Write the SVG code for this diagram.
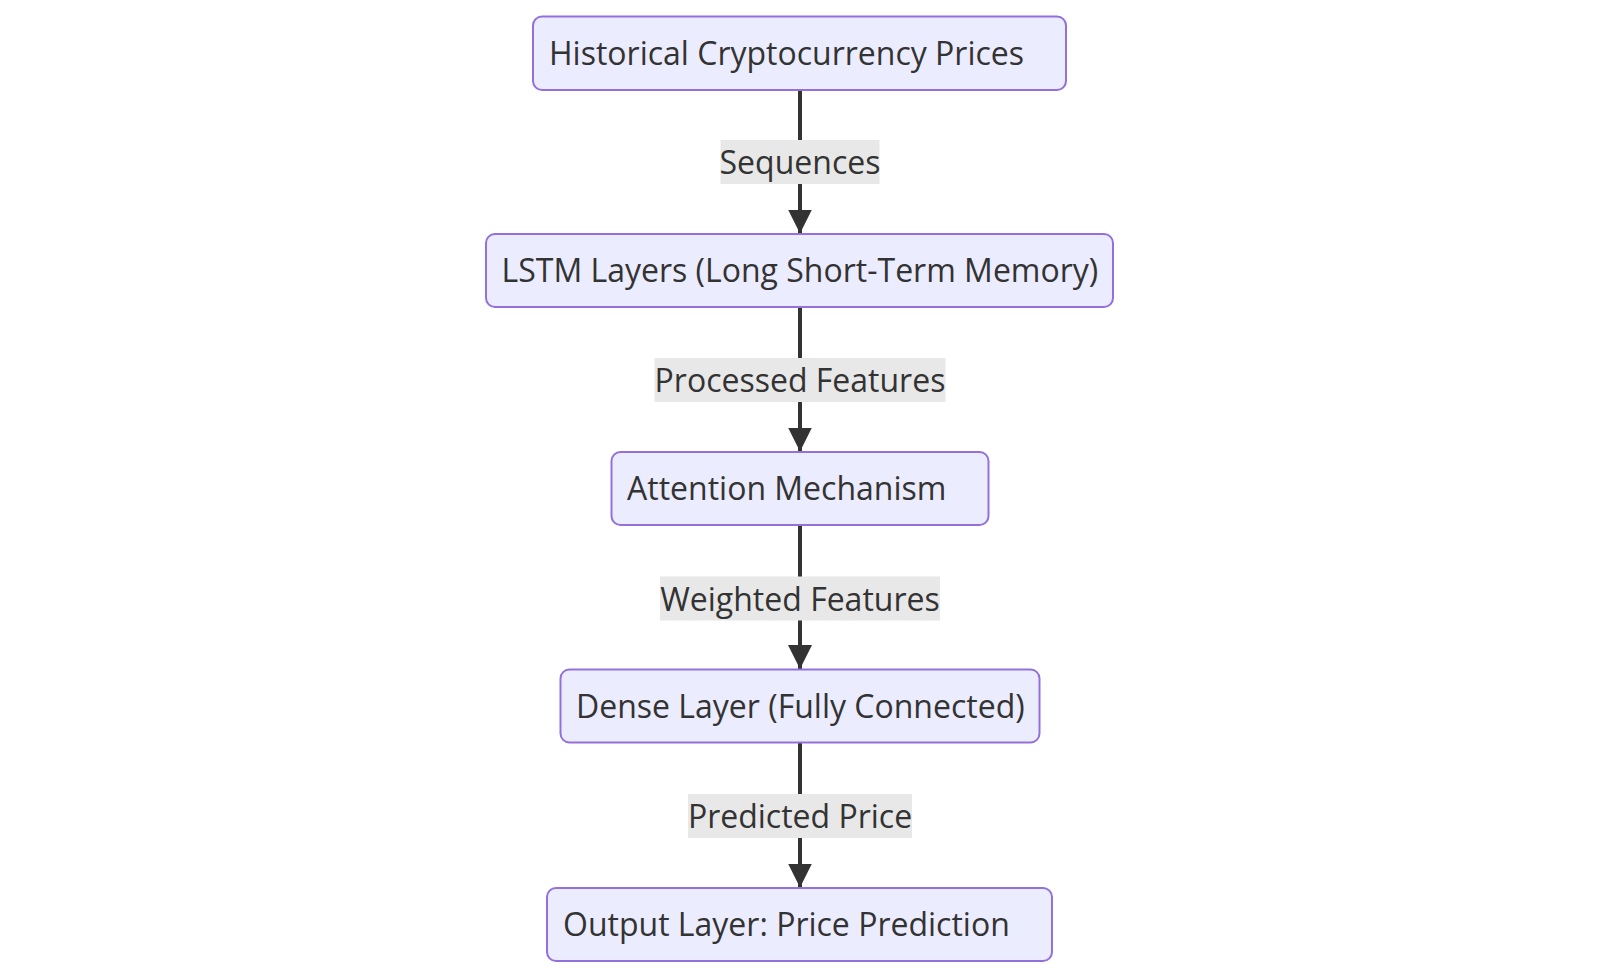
<svg xmlns="http://www.w3.org/2000/svg" width="1600" height="978" viewBox="0 0 1600 978">
  <defs>
    <style>
      .node rect { fill: #ECECFF; stroke: #9370DB; stroke-width: 2; }
      .node text { font-family: "Open Sans", "Liberation Sans", sans-serif; font-size: 32px; fill: #333333; }
      .edge line { stroke: #333333; stroke-width: 4; }
      .label rect { fill: #E8E8E8; }
      .label text { font-family: "Open Sans", "Liberation Sans", sans-serif; font-size: 32px; fill: #333333; text-anchor: middle; }
    </style>
    <marker id="arrow" viewBox="0 0 10 10" refX="10" refY="5" markerUnits="userSpaceOnUse" markerWidth="24" markerHeight="24" orient="auto">
      <path d="M0,0 L10,5 L0,10 Z" fill="#333333"/>
    </marker>
  </defs>
  <rect width="1600" height="978" fill="#FFFFFF"/>

  <!-- connectors -->
  <g id="edges" class="edge">
    <line x1="800" y1="90" x2="800" y2="233.5" marker-end="url(#arrow)"/>
    <line x1="800" y1="307" x2="800" y2="451.5" marker-end="url(#arrow)"/>
    <line x1="800" y1="525" x2="800" y2="669" marker-end="url(#arrow)"/>
    <line x1="800" y1="742.5" x2="800" y2="887.5" marker-end="url(#arrow)"/>
  </g>

  <!-- edge labels -->
  <g id="edge-labels">
    <g class="label"><rect x="720.5" y="140" width="159" height="44"/><text x="800" y="174">Sequences</text></g>
    <g class="label"><rect x="654.5" y="358" width="291" height="44"/><text x="800" y="392">Processed Features</text></g>
    <g class="label"><rect x="660" y="576.5" width="280" height="44"/><text x="800" y="610.5">Weighted Features</text></g>
    <g class="label"><rect x="688" y="794" width="224" height="44"/><text x="800" y="828">Predicted Price</text></g>
  </g>

  <!-- nodes -->
  <g id="node-history" class="node">
    <rect x="533" y="16.5" width="533" height="73.5" rx="9" ry="9"/>
    <text x="549" y="64.5">Historical Cryptocurrency Prices</text>
  </g>
  <g id="node-lstm" class="node">
    <rect x="486" y="234" width="627" height="73" rx="9" ry="9"/>
    <text x="501.5" y="282">LSTM Layers (Long Short-Term Memory)</text>
  </g>
  <g id="node-attention" class="node">
    <rect x="611.5" y="452" width="377" height="73" rx="9" ry="9"/>
    <text x="627" y="500">Attention Mechanism</text>
  </g>
  <g id="node-dense" class="node">
    <rect x="560.5" y="669.5" width="479" height="73" rx="9" ry="9"/>
    <text x="576" y="717.5">Dense Layer (Fully Connected)</text>
  </g>
  <g id="node-output" class="node">
    <rect x="547" y="888" width="505" height="73" rx="9" ry="9"/>
    <text x="563" y="936">Output Layer: Price Prediction</text>
  </g>
</svg>
